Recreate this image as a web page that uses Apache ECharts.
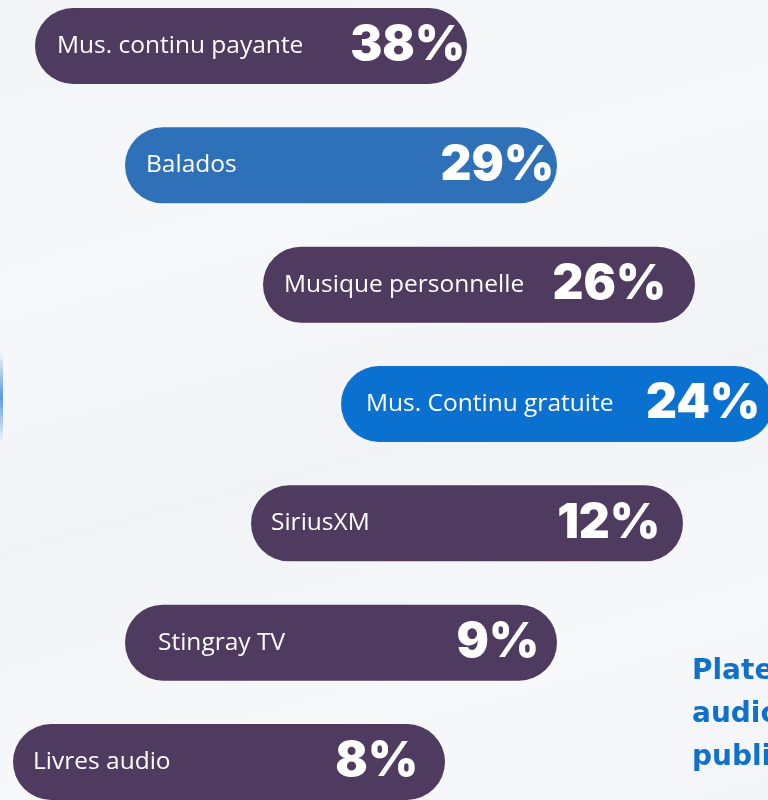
<!DOCTYPE html>
<html lang="fr">
<head>
    <meta charset="UTF-8">
    <title>Plateformes audio</title>
    <script src="https://cdn.jsdelivr.net/npm/echarts@6/dist/echarts.min.js"></script>
    <style>
        html, body { margin: 0; padding: 0; }
        body {
            background: linear-gradient(165deg, #f3f4f7 0%, #f7f8fa 30%, #f2f3f6 55%, #f7f8fa 80%, #f4f5f8 100%);
        }
    </style>
</head>
<body>
<div id="main" style="width:768px;height:800px;"></div>
<script type="text/javascript">
    // données
    var categories = ['Mus. continu payante', 'Balados', 'Musique personnelle', 'Mus. Continu gratuite', 'SiriusXM', 'Stingray TV', 'Livres audio'];
    var shares = [38, 29, 26, 24, 12, 9, 8];
    var highlight = [false, true, false, true, false, false, false];

    // mise en page des pastilles (décoratif, pas une échelle de valeurs)
    var pillStart = [35, 125, 263, 341, 251, 125, 13];
    var pillLength = 432;
    var nameInset = [17, 16, 16, 20, 15, 28, 15];
    var pctInset = [-3, -2, 24, 8, 18, 13, 22];

    var purple = '#4f3b60';
    var blues = ['#2e71b9', '#0b71d0'];

    var myChart = echarts.init(document.getElementById('main'));

    var blueIdx = 0;
    var pillData = categories.map(function (name, i) {
        var color = purple;
        if (highlight[i]) { color = blues[blueIdx++]; }
        return {
            value: pillLength,
            itemStyle: { color: color },
            label: { offset: [nameInset[i], 0] }
        };
    });

    var pctData = shares.map(function (v, i) {
        return {
            value: [pillStart[i] + pillLength, categories[i]],
            label: { offset: [-pctInset[i], 0] }
        };
    });

    option = {
        animation: false,
        grid: { left: 0, right: 0, top: 46, bottom: 38 },
        xAxis: { type: 'value', min: 0, max: 768, show: false },
        yAxis: { type: 'category', data: categories, inverse: true, boundaryGap: false, show: false },
        series: [
            {
                type: 'bar',
                stack: 'p',
                barWidth: 76,
                silent: true,
                itemStyle: { color: 'transparent' },
                data: pillStart
            },
            {
                type: 'bar',
                stack: 'p',
                barWidth: 76,
                clip: false,
                itemStyle: { borderRadius: 38 },
                label: {
                    show: true,
                    position: 'insideLeft',
                    formatter: function (p) { return p.name; },
                    color: '#ffffff',
                    fontFamily: 'Open Sans',
                    fontSize: 24.5
                },
                data: pillData
            },
            {
                type: 'scatter',
                symbolSize: 0,
                clip: false,
                itemStyle: { opacity: 1 },
                label: {
                    show: true,
                    position: 'left',
                    distance: 5,
                    formatter: function (p) { return shares[p.dataIndex] + '%'; },
                    color: '#ffffff',
                    fontFamily: 'Inter',
                    fontWeight: 900,
                    fontSize: 48
                },
                data: pctData
            }
        ],
        graphic: [
            {
                type: 'rect',
                left: 0,
                top: 352,
                shape: { width: 3, height: 90 },
                style: {
                    fill: new echarts.graphic.LinearGradient(0, 0, 0, 1, [
                        { offset: 0, color: 'rgba(74,143,224,0)' },
                        { offset: 0.5, color: 'rgba(74,143,224,0.9)' },
                        { offset: 1, color: 'rgba(74,143,224,0)' }
                    ])
                }
            },
            {
                type: 'text',
                left: 692,
                top: 650,
                style: {
                    text: 'Plateformes\naudio\npubliques',
                    fill: '#1071cc',
                    fontFamily: 'DejaVu Sans',
                    fontWeight: 700,
                    fontSize: 28,
                    lineHeight: 43
                }
            }
        ]
    };

    myChart.setOption(option);
</script>
</body>
</html>
